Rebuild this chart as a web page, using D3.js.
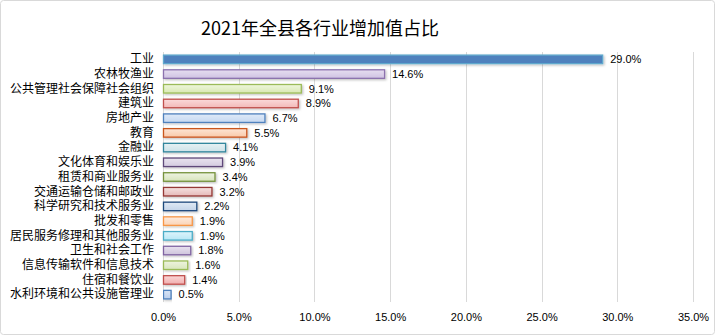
<!DOCTYPE html>
<html>
<head>
<meta charset="utf-8">
<script src="https://cdn.jsdelivr.net/npm/d3@7"></script>
<style>
  html, body { margin: 0; padding: 0; background: #fff; }
  svg { display: block; }
</style>
</head>
<body>
<svg id="chart" width="715" height="335"></svg>
<script>
// Industry categories, top to bottom
const categories = [
  "工业", "农林牧渔业", "公共管理社会保障社会组织", "建筑业", "房地产业", "教育",
  "金融业", "文化体育和娱乐业", "租赁和商业服务业", "交通运输仓储和邮政业",
  "科学研究和技术服务业", "批发和零售", "居民服务修理和其他服务业", "卫生和社会工作",
  "信息传输软件和信息技术", "住宿和餐饮业", "水利环境和公共设施管理业"
];
// Share of value added, percent
const shares = [29.0, 14.6, 9.1, 8.9, 6.7, 5.5, 4.1, 3.9, 3.4, 3.2, 2.2, 1.9, 1.9, 1.8, 1.6, 1.4, 0.5];
// X-axis ticks, percent
const ticks = [0, 5, 10, 15, 20, 25, 30, 35];

// Bar styling: gradient top, gradient bottom, outline
const fillTop = ["#4F81BD", "#E6DEF0", "#EEF6DC", "#FBDADA", "#DFEAF8", "#FDE5D5", "#E6F1F4", "#E9E4EF",
  "#EEF3E2", "#F4E1E0", "#E0E9F4", "#FDECDF", "#DDF4FB", "#E8E2EF", "#EEF4E0", "#FAD8D8", "#D9E5F6"];
const fillBot = ["#4F81BD", "#CFC2E2", "#D9E9B4", "#F3B9B8", "#C6D8F1", "#F9C9A9", "#CDE2E8", "#D4CBE0",
  "#D7E4BB", "#E5B9B8", "#C4D4E9", "#FBD3B5", "#B8E7F5", "#CEC3DC", "#D8E6BD", "#F1ADAD", "#BACEEC"];
const strokes = ["#5FA8CD", "#8C72AE", "#9BBB59", "#C0504D", "#4F81BD", "#C9541E", "#31859C", "#5F497A",
  "#76923C", "#953735", "#1F497D", "#F79646", "#4BACC6", "#8064A2", "#9BBB59", "#C0504D", "#4F81BD"];

const svg = d3.select("#chart");
const W = 715, H = 335;
const margin = { top: 52, right: 22, bottom: 33, left: 163 };

// Chart frame
svg.append("rect")
  .attr("x", 0.5).attr("y", 0.5)
  .attr("width", W - 1).attr("height", H - 1)
  .attr("rx", 3)
  .attr("fill", "#fff")
  .attr("stroke", "#D9D9D9");

const x = d3.scaleLinear().domain([0, 35]).range([margin.left, W - margin.right]);
const y = d3.scaleBand().domain(categories).range([margin.top, H - margin.bottom]).paddingInner(0.42).paddingOuter(0.21);

// Gradients
const defs = svg.append("defs");
categories.forEach((c, i) => {
  const g = defs.append("linearGradient")
    .attr("id", "g" + i).attr("x1", 0).attr("y1", 0).attr("x2", 0).attr("y2", 1);
  g.append("stop").attr("offset", "0%").attr("stop-color", fillTop[i]);
  g.append("stop").attr("offset", "100%").attr("stop-color", fillBot[i]);
});
const shadow = defs.append("filter").attr("id", "shadow").attr("x", "-5%").attr("y", "-30%").attr("width", "115%").attr("height", "180%");
shadow.append("feDropShadow").attr("dx", 1.2).attr("dy", 1.2).attr("stdDeviation", 0.8)
  .attr("flood-color", "#000").attr("flood-opacity", 0.25);

// Vertical gridlines
svg.append("g").selectAll("line").data(ticks).join("line")
  .attr("x1", d => Math.round(x(d)) + 0.5).attr("x2", d => Math.round(x(d)) + 0.5)
  .attr("y1", margin.top).attr("y2", H - margin.bottom)
  .attr("stroke", "#D9D9D9").attr("stroke-width", 1);

// X-axis labels
const xAxis = d3.axisBottom(x).tickValues(ticks).tickFormat(d => d.toFixed(1) + "%").tickSize(0).tickPadding(0);
const ax = svg.append("g").attr("transform", `translate(0,${H - margin.bottom + 11})`).call(xAxis);
ax.select(".domain").remove();
ax.selectAll("text")
  .attr("font-family", "'Liberation Sans', 'Noto Sans', sans-serif")
  .attr("font-size", 11).attr("fill", "#000");

// Category labels
const yAxis = d3.axisLeft(y).tickSize(0).tickPadding(9);
const ay = svg.append("g").attr("transform", `translate(${margin.left},0)`).call(yAxis);
ay.select(".domain").remove();
ay.selectAll("text")
  .attr("font-family", "'Noto Sans CJK SC', sans-serif")
  .attr("font-size", 12).attr("fill", "#000");

// Bars
svg.append("g").selectAll("rect").data(shares).join("rect")
  .attr("x", x(0) + 0.5)
  .attr("y", (d, i) => y(categories[i]))
  .attr("width", d => x(d) - x(0))
  .attr("height", y.bandwidth())
  .attr("fill", (d, i) => `url(#g${i})`)
  .attr("stroke", (d, i) => strokes[i])
  .attr("stroke-width", 1.3)
  .attr("filter", "url(#shadow)");

// Value labels
svg.append("g").selectAll("text").data(shares).join("text")
  .attr("x", d => x(d) + 8)
  .attr("y", (d, i) => y(categories[i]) + y.bandwidth() / 2)
  .attr("dy", "0.35em")
  .attr("font-family", "'Liberation Sans', 'Noto Sans', sans-serif")
  .attr("font-size", 11).attr("fill", "#000")
  .text(d => d.toFixed(1) + "%");

// Title
svg.append("text")
  .attr("x", 320).attr("y", 35)
  .attr("text-anchor", "middle")
  .attr("font-family", "'Noto Sans CJK SC', sans-serif")
  .attr("font-size", 18).attr("fill", "#000")
  .text("2021年全县各行业增加值占比");
</script>
</body>
</html>
